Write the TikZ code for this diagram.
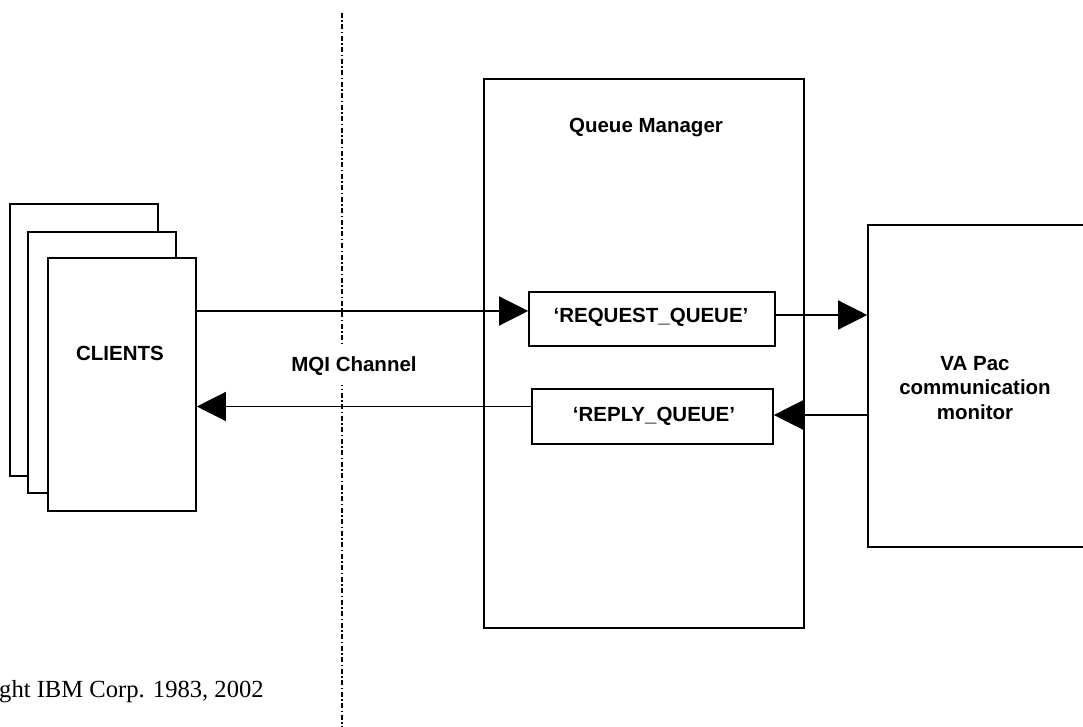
\documentclass[tikz,border=0pt]{standalone}
\usepackage{fontspec}
\setmainfont{Liberation Serif}
\newfontfamily\labelfont{Liberation Sans}
\usetikzlibrary{arrows.meta}
\begin{document}
\begin{tikzpicture}[x=1pt,y=-1pt,
  box/.style={draw=black, line width=1.6pt, fill=white, inner sep=0pt},
  lbl/.style={font=\labelfont\bfseries\fontsize{20.5}{24.5}\selectfont, inner sep=0pt, align=center},
  conn/.style={draw=black, line width=1.3pt, -{Triangle[length=29pt,width=29pt]}},
  dashdot/.style={draw=black, line width=1.5pt, dash pattern=on 5pt off 2.5pt on 1.5pt off 2.5pt}
]
\useasboundingbox (0,0) rectangle (1083,727);
\clip (0,0) rectangle (1083,727);
\fill[white] (0,0) rectangle (1083,727);

% dash-dot boundary
\coordinate (dtop) at (342,13);
\coordinate (dbot) at (342,727);
\draw[dashdot] (dtop) -- (dbot);

% clients stack
\node[box, minimum width=148pt, minimum height=272pt] (cback) at (84,340) {};
\node[box, minimum width=148pt, minimum height=261pt] (cmid) at (102,362.5) {};
\node[box, minimum width=148pt, minimum height=253pt] (front) at (122,384.5) {};
\node[lbl, anchor=base] (clientslbl) at (120,360) {CLIENTS};

% queue manager
\node[box, minimum width=320pt, minimum height=549pt] (qm) at (644,353.5) {};
\node[lbl, anchor=base] (qmlbl) at (646,133) {Queue Manager};

\node[box, minimum width=246pt, minimum height=54pt] (req) at (652,319) {};
\node[lbl, anchor=base] (reqlbl) at (651,322) {‘REQUEST\_QUEUE’};
\node[box, minimum width=241pt, minimum height=55pt] (rep) at (652.5,416.5) {};
\node[lbl, anchor=base] (replbl) at (654,421) {‘REPLY\_QUEUE’};

% monitor
\node[box, minimum width=232pt, minimum height=322pt] (mon) at (984,386) {};
\node[lbl] (monlbl) at (975,388) {VA Pac\\communication\\monitor};

% MQI channel label
\node[lbl, anchor=base, fill=white, inner ysep=10pt, inner xsep=2pt] (mqi) at (354,371) {MQI Channel};

% connectors
\draw[conn] ([yshift=8pt]req.west -| front.east) -- ([yshift=8pt]req.west);
\draw[conn] ([yshift=4pt]req.east) -- ([yshift=4pt]req.east -| mon.west);
\draw[conn] ([yshift=1.5pt]rep.east -| mon.west) -- ([yshift=1.5pt]rep.east);
\draw[conn] ([yshift=10pt]rep.west) -- ([yshift=10pt]rep.west -| front.east);

% copyright
\node[anchor=base west, inner sep=0pt, font=\fontsize{24.6}{28}\selectfont] (copy) at (-1,697) {ght IBM Corp. 1983, 2002};
\end{tikzpicture}
\end{document}
